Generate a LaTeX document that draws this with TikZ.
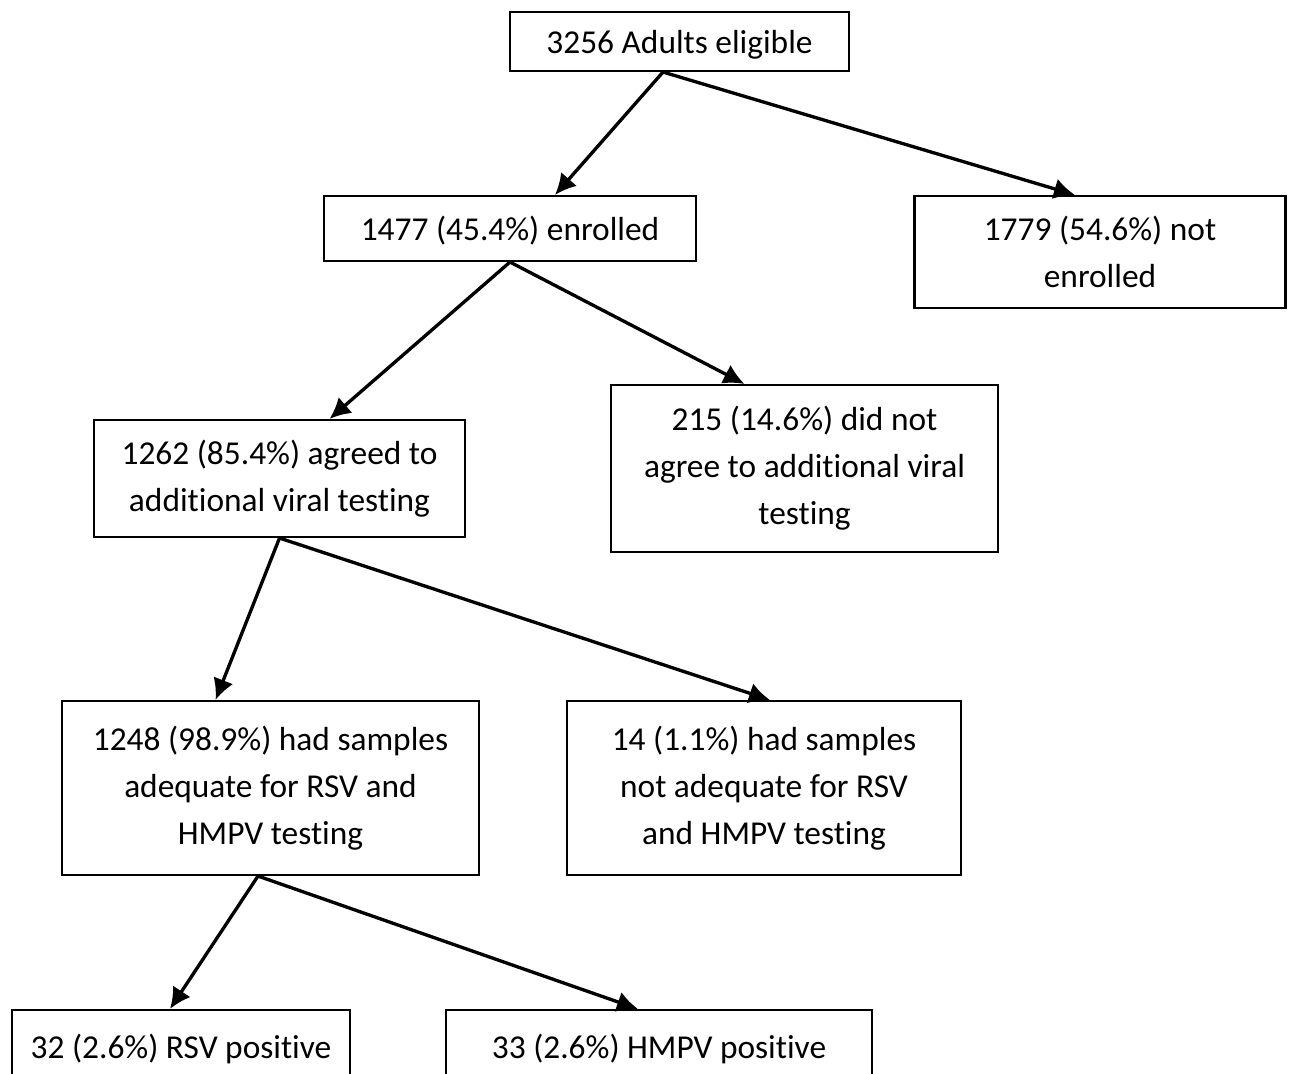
\documentclass[tikz,border=0pt]{standalone}
\usepackage{fontspec}
\setmainfont{Carlito}[Ligatures=NoCommon]
\usetikzlibrary{arrows.meta}

\begin{document}
\begin{tikzpicture}[x=0.02cm, y=-0.02cm,
      every node/.style={shape=rectangle, draw, line width=1.2pt, align=center,
        inner sep=0pt, font=\fontsize{19}{26.7}\selectfont},
      oneline/.style={text height=18pt, text depth=4pt},
      arr/.style={line width=1.9pt, -{Latex[length=0.42cm, width=0.42cm]}}]
  \useasboundingbox (0,0) rectangle (1290,1073);
  % boxes
  \node (eligible) [oneline, minimum width=6.78cm, minimum height=1.18cm] at (679.5,41.5) {3256 Adults eligible};
  \node (enrolled) [oneline, minimum width=7.44cm, minimum height=1.30cm] at (510,228.5) {1477 (45.4\%) enrolled};
  \node (notenrolled) [minimum width=7.42cm, minimum height=2.24cm] at (1100,252) {1779 (54.6\%) not\\enrolled};
  \node (agreed) [minimum width=7.42cm, minimum height=2.34cm] at (279.5,478.5) {1262 (85.4\%) agreed to\\additional viral testing};
  \node (notagreed) [minimum width=7.74cm, minimum height=3.34cm] at (804.5,468.5) {215 (14.6\%) did not\\agree to additional viral\\testing};
  \node (adequate) [minimum width=8.34cm, minimum height=3.48cm] at (270.5,788) {1248 (98.9\%) had samples\\adequate for RSV and\\HMPV testing};
  \node (notadequate) [minimum width=7.88cm, minimum height=3.48cm] at (764,788) {14 (1.1\%) had samples\\not adequate for RSV\\and HMPV testing};
  \node (rsv) [oneline, minimum width=6.76cm, minimum height=1.44cm] at (181,1046) {32 (2.6\%) RSV positive};
  \node (hmpv) [oneline, minimum width=8.52cm, minimum height=1.44cm] at (659,1046) {33 (2.6\%) HMPV positive};
  % arrows
  \draw[arr] ([xshift=-0.33cm]eligible.south) -- ([xshift=0.9cm]enrolled.north);
  \draw[arr] ([xshift=-0.33cm]eligible.south) -- ([xshift=-0.5cm]notenrolled.north);
  \draw[arr] (enrolled.south) -- ([xshift=1.0cm]agreed.north);
  \draw[arr] (enrolled.south) -- ([xshift=-1.2cm]notagreed.north);
  \draw[arr] (agreed.south) -- ([xshift=-1.1cm]adequate.north);
  \draw[arr] (agreed.south) -- ([xshift=0.12cm]notadequate.north);
  \draw[arr] ([xshift=-0.25cm]adequate.south) -- ([xshift=-0.22cm]rsv.north);
  \draw[arr] ([xshift=-0.25cm]adequate.south) -- ([xshift=-0.42cm]hmpv.north);
\end{tikzpicture}
\end{document}
